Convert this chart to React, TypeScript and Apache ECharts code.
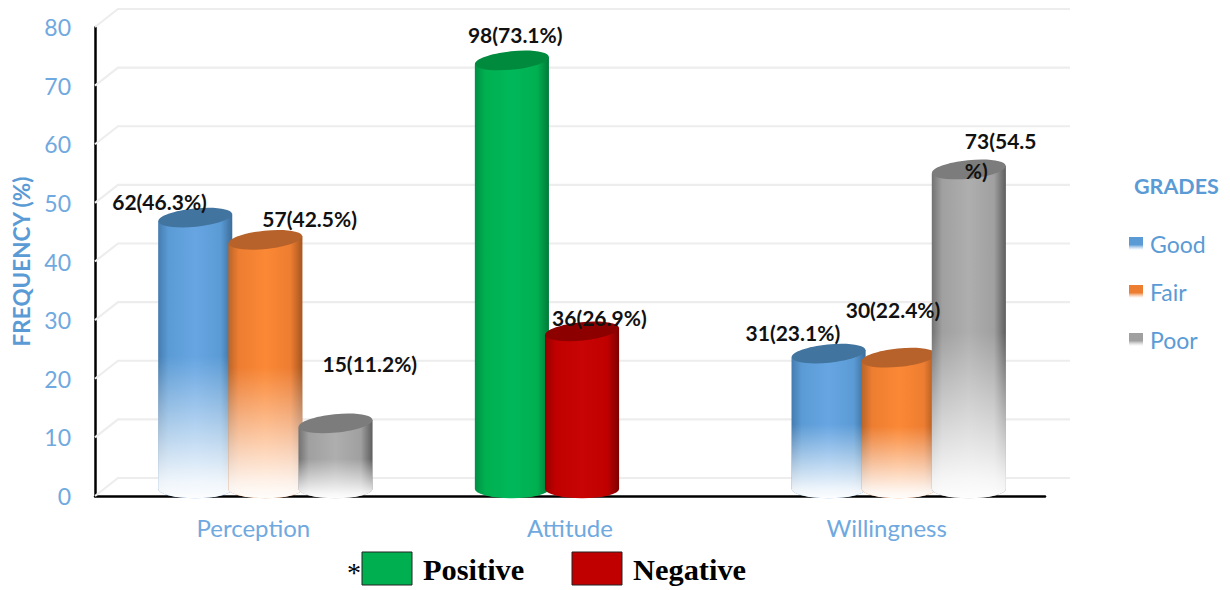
import React, { useEffect, useRef } from "react";
import * as echarts from "echarts";

const categories = ["Perception", "Attitude", "Willingness"];
const grades = ["Good", "Fair", "Poor"];
const goodValues = [46.3, 73.1, 23.1];
const fairValues = [42.5, 26.9, 22.4];
const poorValues = [11.2, null, 54.5];
const goodLabels = ["62(46.3%)", "98(73.1%)", "31(23.1%)"];
const fairLabels = ["57(42.5%)", "36(26.9%)", "30(22.4%)"];
const poorLabels = ["15(11.2%)", "", "73(54.5\n%)"];
const wallTicks = [0, 10, 20, 30, 40, 50, 60, 70, 80];
const keyLabels = ["Positive", "Negative"];

const BLUE = "#5b9bd5";
const palettes = [
  { edgeL: "#457cb0", mid: "#5b9bd5", hi: "#66a5e2", edgeR: "#3b6d9a", top: "#41749f" },
  { edgeL: "#b9652a", mid: "#ed7d31", hi: "#fb8835", edgeR: "#a65620", top: "#b6622a" },
  { edgeL: "#727272", mid: "#a0a0a0", hi: "#aeaeae", edgeR: "#5e5e5e", top: "#7c7c7c" },
];
const attitudePalettes = [
  { edgeL: "#008f45", mid: "#00b050", hi: "#00b85a", edgeR: "#007a3a", top: "#008a3e" },
  { edgeL: "#950000", mid: "#c00000", hi: "#c80404", edgeR: "#7c0000", top: "#8c0000" },
];
const labelOffsets = [
  [[-83, -23], [-44, -33], [-83, -28]],
  [[-3, -28], [-30, -21], [-53, -55]],
  [[-13, -67], [0, 0], [-4, -21]],
];

const SLOT = 0.2215;
const CENTER_SHIFT = 0.038;
const HALF_WIDTH = 0.117;
const RY = 9.2;
const TILT = 0.1;
const LIFT = 7;

function cylinder(seriesIndex: number) {
  return (params: any, api: any) => {
    const value = api.value(1);
    if (value == null || isNaN(value)) return null;
    const cat = api.value(0);
    const band = api.size([1, 0])[0];
    const cx = api.coord([cat, 0])[0] + band * (CENTER_SHIFT + (seriesIndex - 1) * SLOT);
    const rx = band * HALF_WIDTH;
    const topY = api.coord([cat, value])[1] - LIFT;
    const botY = api.coord([cat, 0])[1] - LIFT;
    const attitude = cat === 1;
    const p = attitude ? attitudePalettes[seriesIndex] : palettes[seriesIndex];
    const dy = rx * Math.sin(TILT);
    const d = `M${cx - rx} ${topY + dy}L${cx - rx} ${botY}A${rx} ${RY} 0 0 0 ${cx + rx} ${botY}L${cx + rx} ${topY - dy}Z`;
    const children: any[] = [
      {
        type: "path",
        shape: { pathData: d },
        style: {
          fill: new echarts.graphic.LinearGradient(0, 0, 1, 0, [
            { offset: 0, color: p.edgeL },
            { offset: 0.14, color: p.mid },
            { offset: 0.5, color: p.hi },
            { offset: 0.84, color: p.mid },
            { offset: 1, color: p.edgeR },
          ]),
        },
      },
    ];
    if (!attitude) {
      children.push({
        type: "path",
        shape: { pathData: d },
        style: {
          fill: new echarts.graphic.LinearGradient(0, 0, 0, 1, [
            { offset: 0, color: "rgba(255,255,255,0)" },
            { offset: 0.5, color: "rgba(255,255,255,0)" },
            { offset: 0.55, color: "rgba(255,255,255,0.1)" },
            { offset: 0.94, color: "rgba(255,255,255,0.9)" },
            { offset: 1, color: "rgba(255,255,255,0.98)" },
          ]),
        },
      });
    }
    children.push({
      type: "ellipse",
      x: cx,
      y: topY,
      rotation: TILT,
      shape: { cx: 0, cy: 0, rx, ry: RY },
      style: { fill: p.top },
    });
    return { type: "group", children };
  };
}

export default function App() {
  const ref = useRef<HTMLDivElement>(null);
  useEffect(() => {
    const chart = echarts.init(ref.current!, undefined, { renderer: "svg" });
    const seriesValues = [goodValues, fairValues, poorValues];
    const seriesLabels = [goodLabels, fairLabels, poorLabels];
    const labelData: any[] = [];
    seriesLabels.forEach((labels, s) =>
      labels.forEach((text, c) => {
        if (text) labelData.push({ value: [c, seriesValues[s][c], s], text });
      })
    );
    chart.setOption({
      animation: false,
      backgroundColor: "#ffffff",
      grid: { left: 95, top: 27, width: 950, height: 469 },
      legend: {
        orient: "vertical",
        left: 1124,
        top: 227,
        itemWidth: 14,
        itemHeight: 13,
        itemGap: 25,
        icon: "rect",
        selectedMode: false,
        textStyle: { color: BLUE, fontFamily: "Lato", fontSize: 23, height: 22, padding: [0, 0, 0, 2] },
        data: grades.map((name, i) => ({
          name,
          itemStyle: {
            color: new echarts.graphic.LinearGradient(0, 0, 0, 1, [
              { offset: 0, color: palettes[i].mid },
              { offset: 0.6, color: palettes[i].mid },
              { offset: 1, color: "rgba(255,255,255,0.6)" },
            ]),
          },
        })),
      },
      xAxis: {
        type: "category",
        data: categories,
        axisLine: { lineStyle: { color: "#000", width: 2.5 } },
        axisTick: { show: false },
        axisLabel: { color: "#6fa9e0", fontFamily: "Lato", fontSize: 24, margin: 19 },
      },
      yAxis: {
        type: "value",
        min: 0,
        max: 80,
        interval: 10,
        name: "FREQUENCY (%)",
        nameLocation: "middle",
        nameGap: 62,
        nameTextStyle: { color: BLUE, fontFamily: "Lato", fontWeight: "bold", fontSize: 22.5 },
        axisLine: { show: true, lineStyle: { color: "#000", width: 2.5 } },
        axisTick: { show: false },
        splitLine: { show: false },
        axisLabel: { color: "#6fa9e0", fontFamily: "Lato", fontSize: 23, margin: 24 },
      },
      graphic: [
        { type: "text", left: 1134, top: 175, style: { text: "GRADES", fill: BLUE, font: "bold 21.5px Lato" } },
        { type: "text", left: 347, top: 558, style: { text: "*", fill: "#000", font: "28px 'Liberation Serif'" } },
        { type: "rect", shape: { x: 362, y: 552, width: 50, height: 33 }, style: { fill: "#00b050", stroke: "#222", lineWidth: 1 } },
        { type: "text", left: 423, top: 555, style: { text: keyLabels[0], fill: "#000", font: "bold 30.4px 'Liberation Serif'" } },
        { type: "rect", shape: { x: 572, y: 552, width: 50, height: 33 }, style: { fill: "#c00000", stroke: "#222", lineWidth: 1 } },
        { type: "text", left: 633, top: 555, style: { text: keyLabels[1], fill: "#000", font: "bold 30.4px 'Liberation Serif'" } },
      ],
      series: [
        {
          type: "custom",
          silent: true,
          z: 1,
          coordinateSystem: "cartesian2d",
          data: wallTicks.map((v) => [0, v]),
          encode: { x: 0, y: 1 },
          renderItem: (_p: any, api: any) => {
            const [x, y] = api.coord([0, api.value(1)]);
            const band = api.size([1, 0])[0];
            const left = x - band / 2;
            const right = left + band * 3 + 25;
            return {
              type: "polyline",
              shape: { points: [[left, y], [left + 23, y - 18], [right, y - 18]] },
              style: { stroke: "#ededed", lineWidth: 2.2, fill: "none" },
            };
          },
        },
        ...grades.map((name, i) => ({
          type: "custom",
          name,
          silent: true,
          z: 2 + i,
          coordinateSystem: "cartesian2d",
          itemStyle: { color: palettes[i].mid },
          data: categories.map((_c, c) => [c, seriesValues[i][c]]),
          encode: { x: 0, y: 1 },
          renderItem: cylinder(i),
        })),
        {
          type: "custom",
          silent: true,
          z: 10,
          coordinateSystem: "cartesian2d",
          data: labelData,
          encode: { x: 0, y: 1 },
          renderItem: (params: any, api: any) => {
            const item = labelData[params.dataIndex];
            const c = item.value[0];
            const s = item.value[2];
            const band = api.size([1, 0])[0];
            const [x0, y] = api.coord([c, item.value[1]]);
            const cx = x0 + band * (CENTER_SHIFT + (s - 1) * SLOT);
            const off = labelOffsets[s][c];
            return {
              type: "text",
              x: cx + off[0],
              y: y + off[1],
              style: {
                text: item.text,
                fill: "#111",
                font: "bold 21px Lato",
                align: "left",
                verticalAlign: "middle",
                lineHeight: 30,
              },
            };
          },
        },
      ],
    });
    return () => chart.dispose();
  }, []);
  return (
    <div
      ref={ref}
      style={{ position: "absolute", left: 0, top: 0, width: 1230, height: 590, background: "#fff" }}
    />
  );
}
